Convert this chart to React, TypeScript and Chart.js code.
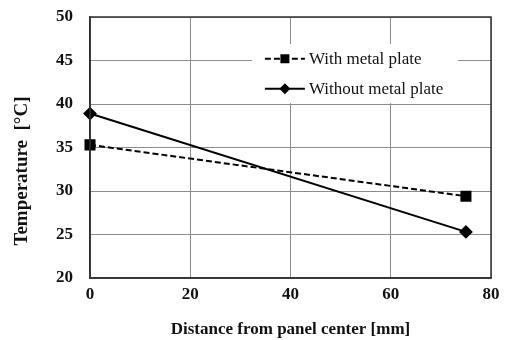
import React, { useEffect, useRef } from "react";
import { Chart, registerables } from "chart.js";

Chart.register(...registerables);

const distances = [0, 75];
const withPlate = [35.3, 29.4];
const withoutPlate = [38.9, 25.3];
const seriesNames = ["With metal plate", "Without metal plate"];
const xTicks = [0, 20, 40, 60, 80];
const yTicks = [20, 25, 30, 35, 40, 45, 50];
const xTitle = "Distance from panel center [mm]";
const yTitle = "Temperature  [°C]";

const SERIF = "'Liberation Serif', 'Times New Roman', serif";

const legendPlugin = {
  id: "innerLegend",
  afterDatasetsDraw(chart: any) {
    const { ctx, scales } = chart;
    const xs = scales.x;
    const ys = scales.y;
    const left = xs.getPixelForValue(32.3);
    const right = xs.getPixelForValue(73.4);
    const top = ys.getPixelForValue(46.9);
    const bottom = ys.getPixelForValue(40.1);
    ctx.save();
    ctx.fillStyle = "#ffffff";
    ctx.fillRect(left, top, right - left, bottom - top);
    const rowY = [ys.getPixelForValue(45.2), ys.getPixelForValue(41.75)];
    const x0 = left + 13;
    const x1 = x0 + 40;
    chart.data.datasets.forEach((ds: any, i: number) => {
      const y = rowY[i];
      ctx.strokeStyle = ds.borderColor;
      ctx.lineWidth = ds.borderWidth;
      ctx.setLineDash(ds.borderDash || []);
      ctx.beginPath();
      ctx.moveTo(x0, y);
      ctx.lineTo(x1, y);
      ctx.stroke();
      ctx.setLineDash([]);
      ctx.fillStyle = ds.pointBackgroundColor;
      const cx = (x0 + x1) / 2;
      if (ds.pointStyle === "rect") {
        ctx.fillRect(cx - 4.5, y - 4.5, 9, 9);
      } else {
        ctx.beginPath();
        ctx.moveTo(cx, y - 5.5);
        ctx.lineTo(cx + 5.5, y);
        ctx.lineTo(cx, y + 5.5);
        ctx.lineTo(cx - 5.5, y);
        ctx.closePath();
        ctx.fill();
      }
      ctx.fillStyle = "#111111";
      ctx.font = `17px ${SERIF}`;
      ctx.textBaseline = "middle";
      ctx.textAlign = "left";
      ctx.fillText(ds.label, x1 + 4, y + 1);
    });
    ctx.restore();
  },
};

const yTitlePlugin = {
  id: "yTitle",
  afterDraw(chart: any) {
    const { ctx, scales } = chart;
    const ys = scales.y;
    const cy = ys.getPixelForValue(20) - 107;
    ctx.save();
    ctx.translate(22, cy);
    ctx.rotate(-Math.PI / 2);
    ctx.fillStyle = "#111111";
    ctx.font = `bold 19px ${SERIF}`;
    ctx.textAlign = "center";
    ctx.textBaseline = "middle";
    ctx.fillText(yTitle, 0, 0);
    ctx.restore();
  },
};

export default function App() {
  const ref = useRef<HTMLCanvasElement | null>(null);
  useEffect(() => {
    document.body.style.margin = "0";
    const canvas = ref.current!;
    const chart = new Chart(canvas, {
      type: "scatter",
      data: {
        datasets: [
          {
            label: seriesNames[0],
            data: distances.map((d, i) => ({ x: d, y: withPlate[i] })),
            showLine: true,
            borderColor: "#000000",
            backgroundColor: "#000000",
            pointBackgroundColor: "#000000",
            pointBorderColor: "#000000",
            borderWidth: 2,
            borderDash: [6, 3],
            pointStyle: "rect",
            pointRadius: 6.4,
            clip: false,
          } as any,
          {
            label: seriesNames[1],
            data: distances.map((d, i) => ({ x: d, y: withoutPlate[i] })),
            showLine: true,
            borderColor: "#000000",
            backgroundColor: "#000000",
            pointBackgroundColor: "#000000",
            pointBorderColor: "#000000",
            borderWidth: 2,
            pointStyle: "rectRot",
            pointRadius: 5.5,
            clip: false,
          } as any,
        ],
      },
      options: {
        animation: false,
        responsive: false,
        layout: { padding: { left: 0, right: 17, top: 17, bottom: 0 } },
        plugins: {
          legend: { display: false },
          tooltip: { enabled: false },
        },
        scales: {
          x: {
            type: "linear",
            min: xTicks[0],
            max: xTicks[xTicks.length - 1],
            afterBuildTicks: (s: any) => {
              s.ticks = xTicks.map((v) => ({ value: v }));
            },
            afterFit: (s: any) => {
              s.height = 62;
            },
            ticks: {
              padding: 6,
              color: "#111111",
              font: { family: SERIF, size: 17, weight: "bold" },
            },
            grid: { color: "#8c8c8c", lineWidth: 1, drawTicks: false },
            border: { color: "#333333", width: 1.5 },
            title: {
              display: true,
              text: xTitle,
              color: "#111111",
              font: { family: SERIF, size: 17, weight: "bold" },
              padding: { top: 0, bottom: 0 },
            },
          },
          y: {
            type: "linear",
            min: yTicks[0],
            max: yTicks[yTicks.length - 1],
            afterBuildTicks: (s: any) => {
              s.ticks = yTicks.map((v) => ({ value: v }));
            },
            afterFit: (s: any) => {
              s.width = 90;
            },
            ticks: {
              padding: 0,
              color: "#111111",
              font: { family: SERIF, size: 17, weight: "bold" },
            },
            grid: {
              color: "#8c8c8c",
              lineWidth: 1,
              drawTicks: true,
              tickLength: 17,
              tickColor: "rgba(0,0,0,0)",
            },
            border: { color: "#333333", width: 1.5 },
            title: { display: false, text: yTitle },
          },
        },
      },
      plugins: [
        legendPlugin,
        yTitlePlugin,
        {
          id: "frame",
          afterDraw(chart: any) {
            const { ctx, chartArea } = chart;
            ctx.save();
            ctx.strokeStyle = "#333333";
            ctx.lineWidth = 1.5;
            ctx.strokeRect(chartArea.left, chartArea.top, chartArea.right - chartArea.left, chartArea.bottom - chartArea.top);
            ctx.restore();
          },
        },
      ],
    } as any);
    return () => chart.destroy();
  }, []);
  return <canvas ref={ref} width={508} height={340} style={{ display: "block" }} />;
}
